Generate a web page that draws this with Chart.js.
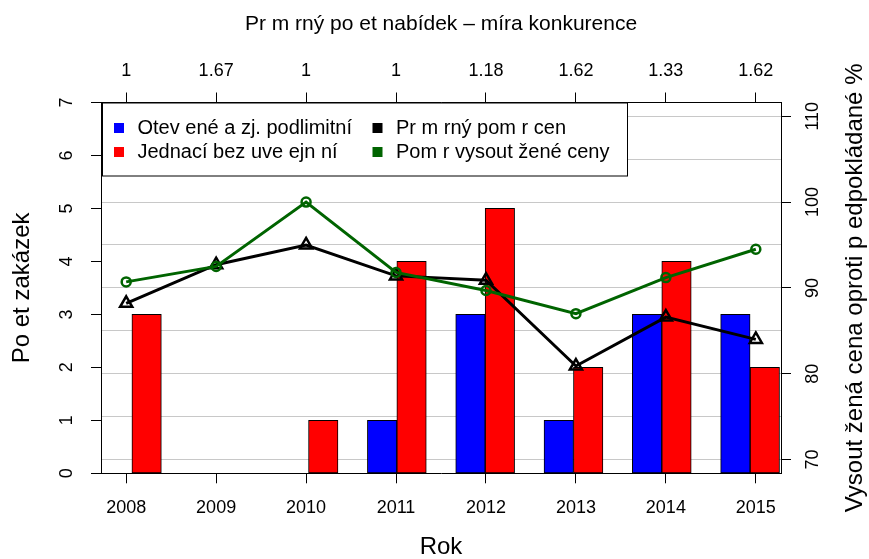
<!DOCTYPE html>
<html>
<head>
<meta charset="utf-8">
<script src="https://cdn.jsdelivr.net/npm/chart.js@4"></script>
<style>
  html, body { margin: 0; padding: 0; background: #fff; }
  #wrap { width: 869px; height: 559px; }
</style>
</head>
<body>
<div id="wrap"><canvas id="myChart" width="869" height="559"></canvas></div>
<script>
// data
const years = ["2008", "2009", "2010", "2011", "2012", "2013", "2014", "2015"];
const offerLabels = ["1", "1.67", "1", "1", "1.18", "1.62", "1.33", "1.62"];

const openCounts = [0, 0, 0, 1, 3, 1, 3, 3];
const negotiatedCounts = [3, 0, 1, 4, 5, 2, 4, 2];

const avgPriceRatio = [88.2, 92.7, 95.0, 91.4, 90.9, 80.9, 86.6, 84.0];
const wonPriceRatio = [90.7, 92.5, 100.0, 91.8, 89.7, 87.0, 91.2, 94.5];

const countTicks = [0, 1, 2, 3, 4, 5, 6, 7];
const percentTicks = [70, 75, 80, 85, 90, 95, 100, 105, 110];

const seriesNames = [
  "Otev ené a zj. podlimitní",
  "Jednací bez uve ejn ní",
  "Pr m rný pom r cen",
  "Pom r vysout žené ceny",
];
const topTitle = "Pr m rný po et nabídek – míra konkurence";
const xTitle = "Rok";
const leftTitle = "Po et zakázek";
const rightTitle = "Vysout žená cena oproti p edpokládané %";

Chart.defaults.font.family = "'Liberation Sans', Arial, Helvetica, sans-serif";
Chart.defaults.color = "#000";

// barplot slots (as in R's barplot with beside=TRUE): each year takes
// one unit of space and then two bars one unit wide
const barSlot = (i, k) => 3 * i + 1.5 + k;
const ticksFrom = (values) => (scale) => {
  scale.ticks = values.map((v) => ({ value: v }));
};

// legend drawn inside the plot, two columns, like R's legend()
const boxLegend = {
  id: "boxLegend",
  afterDatasetsDraw(chart) {
    const { ctx, chartArea } = chart;
    const x0 = chartArea.left + 1.5;
    const y0 = chartArea.top + 0.5;
    ctx.save();
    ctx.fillStyle = "#fff";
    ctx.fillRect(x0, y0, 525, 73);
    ctx.strokeStyle = "#000";
    ctx.lineWidth = 1;
    ctx.strokeRect(x0, y0, 525, 73);
    ctx.font = "20px 'Liberation Sans', Arial, sans-serif";
    ctx.textBaseline = "middle";
    ctx.textAlign = "left";
    chart.data.datasets.forEach((ds, i) => {
      const col = Math.floor(i / 2);
      const row = i % 2;
      const cx = x0 + (col === 0 ? 16.5 : 275);
      const tx = x0 + (col === 0 ? 35 : 293.5);
      const cy = y0 + 25 + row * 24;
      ctx.fillStyle = ds.type === "line" ? ds.borderColor : ds.backgroundColor;
      ctx.fillRect(cx - 5, cy - 5, 10, 10);
      ctx.fillStyle = "#000";
      ctx.fillText(ds.label, tx, cy);
    });
    ctx.restore();
  },
};

// right axis title reads bottom to top, as in the original
const rightAxisTitle = {
  id: "rightAxisTitle",
  afterDraw(chart) {
    const { ctx, chartArea } = chart;
    ctx.save();
    ctx.translate(chart.width - 14, (chartArea.top + chartArea.bottom) / 2);
    ctx.rotate(-Math.PI / 2);
    ctx.font = "24px 'Liberation Sans', Arial, sans-serif";
    ctx.fillStyle = "#000";
    ctx.textAlign = "center";
    ctx.textBaseline = "middle";
    ctx.fillText(rightTitle, 0, 0);
    ctx.restore();
  },
};

const ctx = document.getElementById("myChart");

new Chart(ctx, {
  type: "bar",
  data: {
    datasets: [
      {
        label: seriesNames[0],
        data: openCounts.map((v, i) => ({ x: barSlot(i, 0), y: v })),
        backgroundColor: "#0000ff",
        borderColor: "#000",
        borderWidth: 1,
        borderSkipped: false,
        grouped: false,
        barPercentage: 1,
        categoryPercentage: 1,
        xAxisID: "xb",
        yAxisID: "y",
        order: 2,
      },
      {
        label: seriesNames[1],
        data: negotiatedCounts.map((v, i) => ({ x: barSlot(i, 1), y: v })),
        backgroundColor: "#ff0000",
        borderColor: "#000",
        borderWidth: 1,
        borderSkipped: false,
        grouped: false,
        barPercentage: 1,
        categoryPercentage: 1,
        xAxisID: "xb",
        yAxisID: "y",
        order: 2,
      },
      {
        type: "line",
        label: seriesNames[2],
        data: avgPriceRatio.map((v, i) => ({ x: i + 1, y: v })),
        borderColor: "#000",
        borderWidth: 3,
        tension: 0,
        pointStyle: "triangle",
        pointRadius: 7,
        pointBorderWidth: 2.5,
        pointBorderColor: "#000",
        pointBackgroundColor: "rgba(0,0,0,0)",
        xAxisID: "x",
        yAxisID: "y2",
        order: 1,
      },
      {
        type: "line",
        label: seriesNames[3],
        data: wonPriceRatio.map((v, i) => ({ x: i + 1, y: v })),
        borderColor: "#006400",
        borderWidth: 3,
        tension: 0,
        pointStyle: "circle",
        pointRadius: 4.5,
        pointBorderWidth: 2.5,
        pointBorderColor: "#006400",
        pointBackgroundColor: "rgba(0,0,0,0)",
        xAxisID: "x",
        yAxisID: "y2",
        order: 0,
      },
    ],
  },
  options: {
    responsive: false,
    animation: false,
    devicePixelRatio: 1,
    layout: { padding: 0, autoPadding: false },
    plugins: {
      legend: { display: false },
      title: { display: false },
      tooltip: { enabled: false },
    },
    scales: {
      xb: {
        type: "linear",
        display: false,
        offset: false,
        min: 0.95,
        max: 24.05,
        afterBuildTicks: ticksFrom([]),
      },
      x: {
        type: "linear",
        position: "bottom",
        offset: false,
        min: 0.72,
        max: 8.28,
        afterBuildTicks: ticksFrom(years.map((y, i) => i + 1)),
        afterFit(scale) {
          scale.height = 85.7;
        },
        ticks: {
          callback: (v, i) => years[i],
          autoSkip: false,
          maxRotation: 0,
          padding: 14,
          font: { size: 18 },
        },
        grid: {
          offset: false,
          drawOnChartArea: false,
          tickLength: 10,
          color: "#000",
        },
        border: { display: true, color: "#000", width: 1 },
        title: {
          display: true,
          text: xTitle,
          font: { size: 24, lineHeight: 1 },
          padding: { top: 0, bottom: 0 },
        },
      },
      xt: {
        type: "linear",
        position: "top",
        offset: false,
        min: 0.72,
        max: 8.28,
        afterBuildTicks: ticksFrom(offerLabels.map((t, i) => i + 1)),
        afterFit(scale) {
          scale.height = 102.5;
        },
        ticks: {
          callback: (v, i) => offerLabels[i],
          autoSkip: false,
          maxRotation: 0,
          padding: 11,
          font: { size: 18 },
        },
        grid: {
          offset: false,
          drawOnChartArea: false,
          tickLength: 10,
          color: "#000",
        },
        border: { display: true, color: "#000", width: 1 },
        title: {
          display: true,
          text: topTitle,
          font: { size: 21, lineHeight: 1 },
          padding: { top: 14, bottom: 0 },
        },
      },
      y: {
        position: "left",
        min: 0,
        max: 7,
        afterBuildTicks: ticksFrom(countTicks),
        afterFit(scale) {
          scale.width = 101;
        },
        ticks: {
          minRotation: 90,
          maxRotation: 90,
          crossAlign: "center",
          padding: 19,
          font: { size: 18 },
        },
        grid: {
          drawOnChartArea: false,
          tickLength: 10,
          color: "#000",
        },
        border: { display: true, color: "#000", width: 1 },
        title: {
          display: true,
          text: leftTitle,
          font: { size: 24, lineHeight: 1 },
          padding: { top: 10, bottom: 0 },
        },
      },
      y2: {
        position: "right",
        min: 68.4,
        max: 111.6,
        afterBuildTicks: ticksFrom(percentTicks),
        afterFit(scale) {
          scale.width = 88;
        },
        ticks: {
          callback: (v) => (v % 10 === 0 ? String(v) : ""),
          minRotation: 90,
          maxRotation: 90,
          crossAlign: "center",
          padding: 7,
          font: { size: 18 },
        },
        grid: {
          drawOnChartArea: true,
          tickLength: 10,
          color: "#c8c8c8",
          tickColor: (c) => (c.tick && c.tick.value % 10 === 0 ? "#000" : "rgba(0,0,0,0)"),
        },
        border: { display: true, color: "#000", width: 1 },
      },
    },
  },
  plugins: [boxLegend, rightAxisTitle],
});
</script>
</body>
</html>
